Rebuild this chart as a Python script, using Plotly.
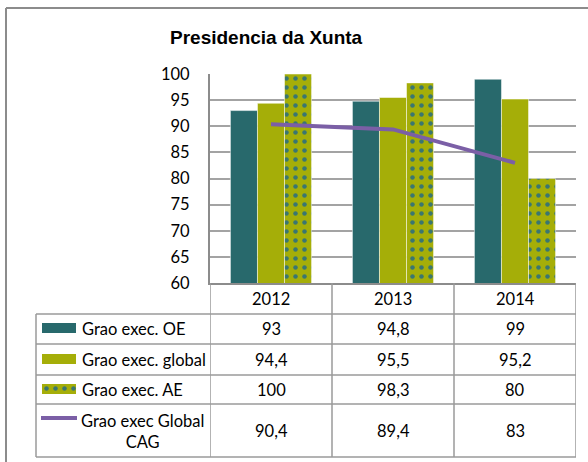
import plotly.graph_objects as go

years = ["2012", "2013", "2014"]
oe = [93, 94.8, 99]
global_ = [94.4, 95.5, 95.2]
ae = [100, 98.3, 80]
cag = [90.4, 89.4, 83]
series_labels = ["Grao exec. OE", "Grao exec. global", "Grao exec. AE", "Grao exec Global<br>CAG"]
title = "Presidencia da Xunta"

W, H = 588, 462
def px(x): return x / W
def py(y): return 1 - y / H

TEAL = "#28696C"
OLIVE = "#A5AE08"
PURPLE = "#7B5FA6"
GRID = "#A3A3A3"
FONT = "Lato"

fig = go.Figure()
fig.add_bar(x=years, y=oe, name=series_labels[0], marker=dict(color=TEAL, line=dict(color="white", width=0.5)))
fig.add_bar(x=years, y=global_, name=series_labels[1], marker=dict(color=OLIVE, line=dict(color="white", width=0.5)))
pat = dict(shape=".", fgcolor="#3A7670", bgcolor=OLIVE, size=9, solidity=0.2, fillmode="replace")
fig.add_bar(x=years, y=ae, name=series_labels[2], marker=dict(color=OLIVE, pattern=pat, line=dict(color="white", width=0.5)))
fig.add_scatter(x=years, y=cag, mode="lines", name="CAG", line=dict(color=PURPLE, width=4))
# legend key swatch for patterned series
fig.add_bar(x=[0], y=[1], width=[1], xaxis="x2", yaxis="y2", showlegend=False,
            marker=dict(color=OLIVE, pattern=pat, line=dict(width=0)))

fig.update_layout(
    width=W, height=H, margin=dict(l=0, r=0, t=0, b=0, pad=0, autoexpand=False),
    paper_bgcolor="white", plot_bgcolor="white", showlegend=False,
    barmode="group", bargap=0.335, bargroupgap=0,
    font=dict(family=FONT, size=16.5, color="black"),
    xaxis=dict(domain=[px(210), px(576)], type="category", range=[-0.5, 2.5], automargin=False,
               showticklabels=False, showgrid=False, showline=True, linecolor="#8C8C8C", linewidth=2, ticks=""),
    yaxis=dict(domain=[py(283), py(74)], range=[60, 100], dtick=5, showgrid=True, gridcolor=GRID, gridwidth=1.5,
               automargin=False,
               showline=True, linecolor="#8C8C8C", linewidth=2, ticks="", ticklabelstandoff=15,
               tickfont=dict(family=FONT, size=16.5, color="black")),
    xaxis2=dict(domain=[px(42), px(76)], range=[-0.5, 0.5], visible=False, anchor="y2", automargin=False),
    yaxis2=dict(domain=[py(394), py(384)], range=[0, 1], visible=False, anchor="x2", automargin=False),
)

shapes = []
LC = "#9A9A9A"
def hline(y, x0, x1, color=LC, w=1.5):
    shapes.append(dict(type="line", xref="paper", yref="paper", x0=px(x0), x1=px(x1), y0=py(y), y1=py(y), line=dict(color=color, width=w)))
def vline(x, y0, y1, color=LC, w=1.5):
    shapes.append(dict(type="line", xref="paper", yref="paper", x0=px(x), x1=px(x), y0=py(y0), y1=py(y1), line=dict(color=color, width=w)))

# outer frame
hline(8, 6, 588, "#8C8C8C", 2)
vline(6, 8, 462, "#8C8C8C", 2)
# table
row_edges = [314, 344, 375, 404, 457]
for y in row_edges:
    hline(y, 36, 576)
vline(36, 314, 457)
for i in range(len(years) + 1):
    shapes.append(dict(type="line", xref="x", yref="paper", x0=i - 0.5, x1=i - 0.5, y0=py(283), y1=py(457), line=dict(color=LC, width=1.5)))
# legend keys
shapes.append(dict(type="rect", xref="paper", yref="paper", x0=px(42), x1=px(76), y0=py(333), y1=py(323), fillcolor=TEAL, line=dict(width=0)))
shapes.append(dict(type="rect", xref="paper", yref="paper", x0=px(42), x1=px(76), y0=py(364), y1=py(354), fillcolor=OLIVE, line=dict(width=0)))
shapes.append(dict(type="line", xref="paper", yref="paper", x0=px(41), x1=px(77), y0=py(418), y1=py(418), line=dict(color=PURPLE, width=4)))
fig.update_layout(shapes=shapes)

ann = []
ann.append(dict(text="<b>" + title + "</b>", x=px(266), y=py(37), xref="paper", yref="paper", showarrow=False,
                font=dict(family="Liberation Sans, Arial", size=19, color="black"), xanchor="center", yanchor="middle"))
for i, yr in enumerate(years):
    ann.append(dict(text=yr, x=i, y=py(298.5), xref="x", yref="paper", showarrow=False, xanchor="center", yanchor="middle"))
row_centers = [(row_edges[k] + row_edges[k + 1]) / 2 for k in range(4)]
values = [oe, global_, ae, cag]
for k in range(4):
    if k < 3:
        ann.append(dict(text=series_labels[k], x=px(80), y=py(row_centers[k]), xref="paper", yref="paper", showarrow=False,
                        xanchor="left", yanchor="middle"))
    else:
        ann.append(dict(text=series_labels[k], x=px(142), y=py(row_centers[k] + 1), xref="paper", yref="paper", showarrow=False,
                        xanchor="center", yanchor="middle", align="center"))
    for i, yr in enumerate(years):
        v = values[k][i]
        s = (f"{v:g}").replace(".", ",")
        ann.append(dict(text=s, x=i, y=py(row_centers[k]), xref="x", yref="paper", showarrow=False, xanchor="center", yanchor="middle"))
fig.update_layout(annotations=ann)

fig.write_html("out.html", config={"displayModeBar": False},
               post_script="document.body.style.margin='0px';document.body.style.overflow='hidden';")
